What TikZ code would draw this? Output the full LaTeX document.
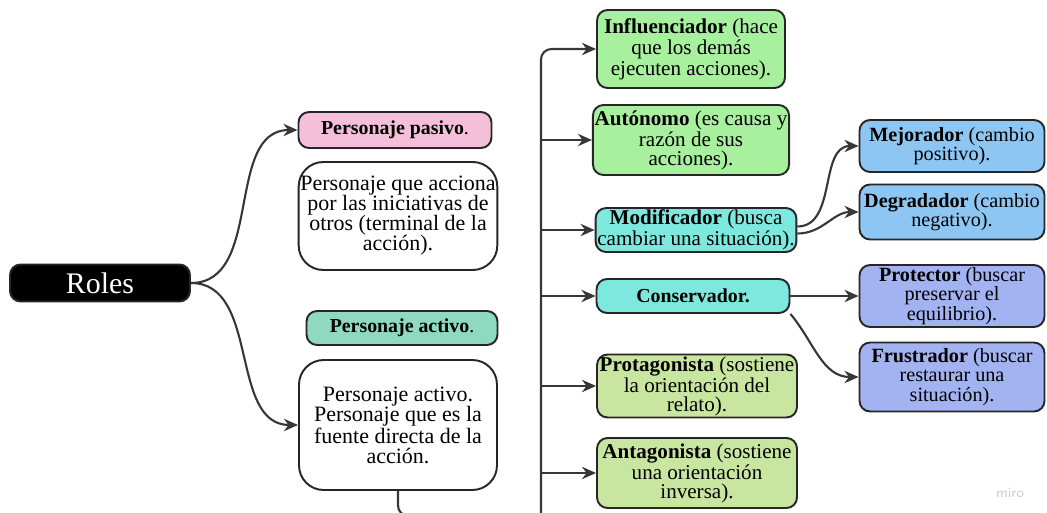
\documentclass[tikz,border=0pt]{standalone}
\usepackage{fontspec}
\setmainfont{Liberation Serif}
\usepackage{tikz}
\usetikzlibrary{arrows.meta}
\usetikzlibrary{calc}

\definecolor{pinkbox}{RGB}{245,191,217}
\definecolor{mintbox}{RGB}{142,217,192}
\definecolor{greenbox}{RGB}{166,240,158}
\definecolor{cyanbox}{RGB}{125,232,222}
\definecolor{olivebox}{RGB}{201,230,160}
\definecolor{bluebox}{RGB}{141,198,242}
\definecolor{lavbox}{RGB}{163,179,242}
\definecolor{linegray}{RGB}{55,55,55}

\tikzset{
    box/.style={draw=black!85, line width=1.1pt, rounded corners=6pt, align=center, inner sep=1pt,
        font=\fontsize{12}{10.8}\selectfont},
    headbox/.style={box, font=\fontsize{11.3}{12}\selectfont},
    sidebox/.style={box, font=\fontsize{11.5}{11}\selectfont},
    descbox/.style={box, fill=white, rounded corners=14pt, font=\fontsize{12.5}{11.4}\selectfont},
    link/.style={draw=linegray, line width=1.2pt},
    arr/.style={link, -{Stealth[length=8pt,width=7pt]}}
}

\begin{document}
\begin{tikzpicture}[x=0.02cm, y=-0.02cm]
    \useasboundingbox (0,0) rectangle (1047,513);

    % Left part
    \node[box, fill=black, text=white, minimum width=3.6cm, minimum height=0.74cm, font=\fontsize{17}{19}\selectfont] (roles) at (100,283) {Roles};
    \node[headbox, fill=pinkbox, minimum width=3.86cm, minimum height=0.72cm] (pasivo) at (395,130) {\textbf{Personaje pasivo}.};
    \node[descbox, minimum width=3.96cm, minimum height=2.16cm] (pdesc) at (398,216) {Personaje que acciona\\por las iniciativas de\\otros (terminal de la\\acción).};
    \node[headbox, fill=mintbox, minimum width=3.82cm, minimum height=0.68cm] (activo) at (402,328) {\textbf{Personaje activo}.};
    \node[descbox, minimum width=3.96cm, minimum height=2.6cm] (adesc) at (398,425) {Personaje activo.\\Personaje que es la\\fuente directa de la\\acción.};

    % Middle column
    \node[box, fill=greenbox, minimum width=3.76cm, minimum height=1.56cm] (infl) at (691,49) {\textbf{Influenciador} (hace\\que los demás\\ejecuten acciones).};
    \node[box, fill=greenbox, minimum width=3.76cm, minimum height=1.4cm] (auto) at (691,140) {\textbf{Autónomo} (es causa y\\razón de sus\\acciones).};
    \node[box, fill=cyanbox, minimum width=3.96cm, minimum height=0.88cm] (modi) at (696,230) {\textbf{Modificador} (busca\\cambiar una situación).};
    \node[headbox, fill=cyanbox, minimum width=3.86cm, minimum height=0.68cm] (cons) at (693,296) {\textbf{Conservador.}};
    \node[box, fill=olivebox, minimum width=4cm, minimum height=1.26cm] (prot) at (697,386) {\textbf{Protagonista} (sostiene\\la orientación del\\relato).};
    \node[box, fill=olivebox, minimum width=4cm, minimum height=1.4cm] (anta) at (697,473) {\textbf{Antagonista} (sostiene\\una orientación\\inversa).};

    % Right column
    \node[sidebox, fill=bluebox, minimum width=3.7cm, minimum height=1.04cm] (mejo) at (952,146) {\textbf{Mejorador} (cambio\\positivo).};
    \node[sidebox, fill=bluebox, minimum width=3.7cm, minimum height=1.1cm] (degr) at (952,212) {\textbf{Degradador} (cambio\\negativo).};
    \node[sidebox, fill=lavbox, minimum width=3.7cm, minimum height=1.24cm] (prte) at (952,296) {\textbf{Protector} (buscar\\preservar el\\equilibrio).};
    \node[sidebox, fill=lavbox, minimum width=3.7cm, minimum height=1.38cm] (frus) at (952,377) {\textbf{Frustrador} (buscar\\restaurar una\\situación).};

    \node[text=black!20, font=\sffamily\footnotesize] (miro) at (1010,493) {miro};

    % Connectors from Roles
    \draw[arr] (roles.east) to[out=0, in=180] (pasivo.west);
    \draw[arr] (roles.east) to[out=0, in=180] (adesc.west);

    % The bus line and its arrows
    \coordinate (bus) at (541,516);
    \draw[link, rounded corners=6pt] (adesc.south) |- (bus);
    \draw[arr, rounded corners=6pt] (bus) |- (infl.west);
    \foreach \n in {auto,modi,cons,prot,anta}
        \draw[arr] (bus |- \n.west) -- (\n.west);

    % Sub-roles
    \draw[arr] ([yshift=2pt]modi.east) to[out=0, in=180] (mejo.west);
    \draw[arr] ([yshift=-2pt]modi.east) to[out=0, in=180] (degr.west);
    \draw[arr] (cons.east) -- (prte.west);
    \draw[arr] (cons.south east) to[out=-50, in=180] (frus.west);
\end{tikzpicture}
\end{document}
